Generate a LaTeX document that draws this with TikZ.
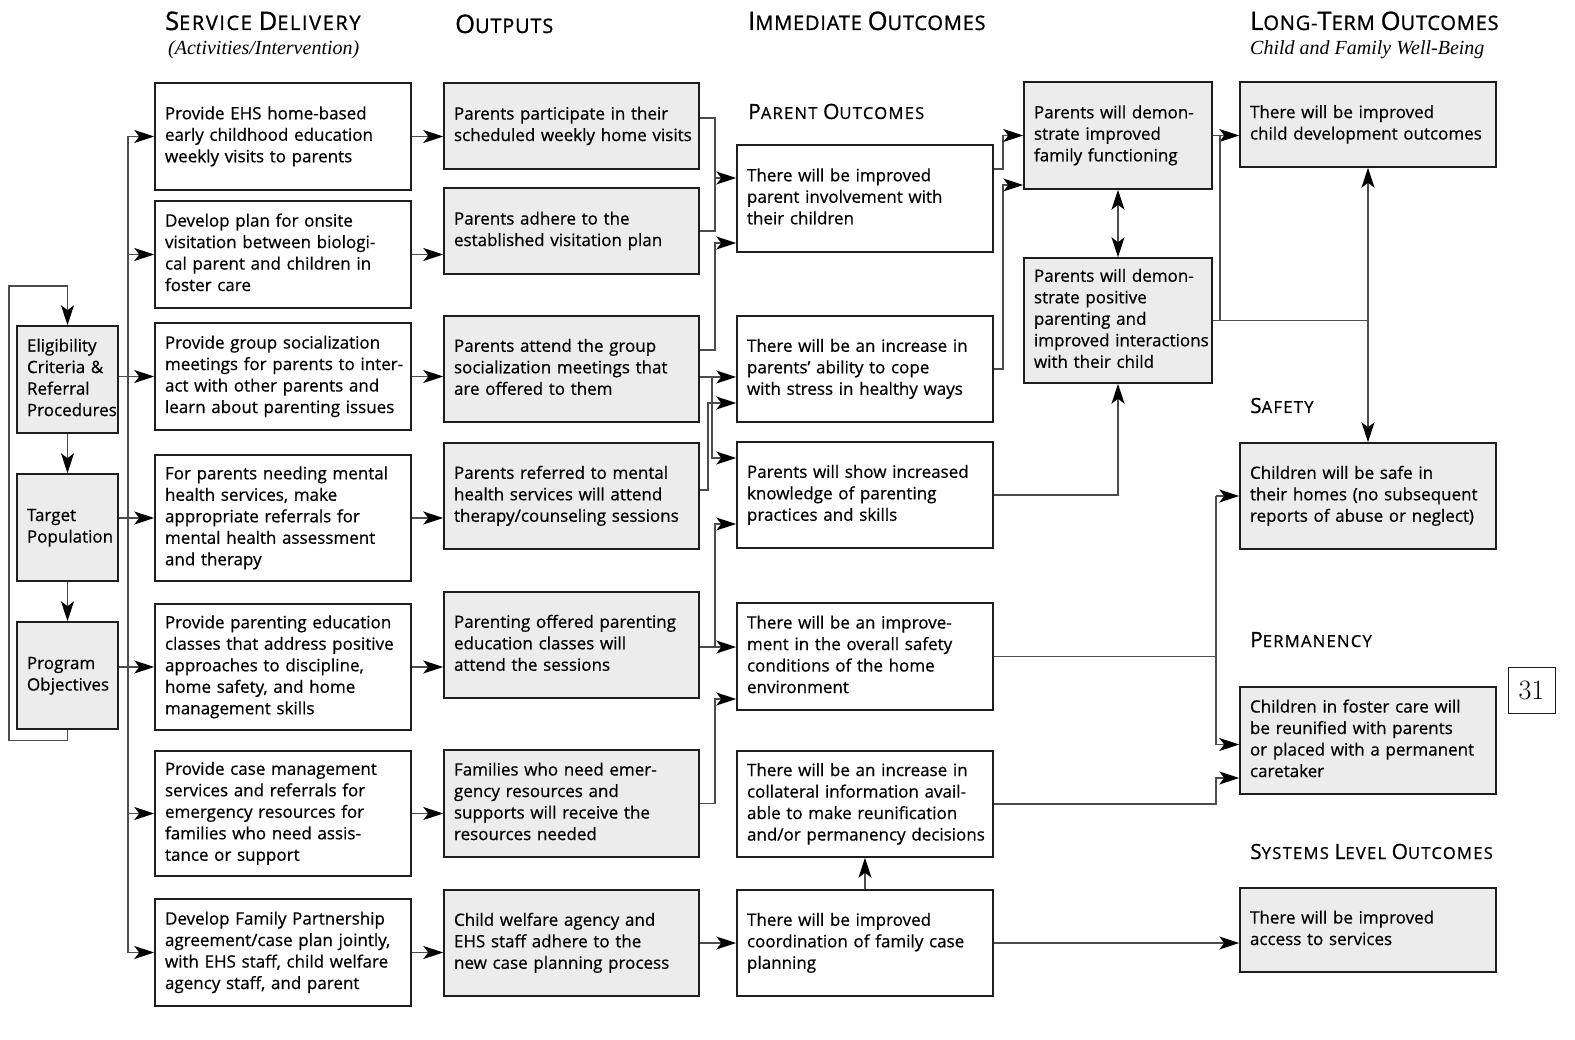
\documentclass[tikz,border=0pt]{standalone}
\usepackage{fontspec}
\setsansfont{Open Sans}
\newfontfamily\timesf{Liberation Serif}
\usetikzlibrary{arrows.meta}
\definecolor{boxgray}{HTML}{ECECEC}
\definecolor{linegray}{HTML}{4C4C4C}
\definecolor{edgecol}{HTML}{1E1E1E}
\newcommand\HC[1]{{\fontsize{25.5}{25.5}\selectfont #1}}
\newcommand\hc[1]{{\fontsize{21}{21}\selectfont #1}}
\newcommand\TL[1]{\begin{tabular}{@{}l@{}}#1\end{tabular}}
\begin{document}
\begin{tikzpicture}[x=1pt,y=-1pt,
  >={Stealth[length=20pt,width=13pt,inset=5pt,color=black]},
  box/.style={draw=edgecol, line width=1.5pt, rectangle, inner xsep=10pt, inner ysep=3pt, align=left,
    font=\sffamily\fontsize{17}{21.5}\selectfont\addfontfeatures{FakeBold=0.6}, text=black},
  wbox/.style={box, fill=white},
  gbox/.style={box, fill=boxgray},
  lcol/.style={gbox, minimum width=101pt, text width=81pt, minimum height=107pt},
  scol/.style={wbox, minimum width=256pt, text width=236pt},
  ocol/.style={gbox, minimum width=255pt, text width=235pt},
  icol/.style={wbox, minimum width=256pt, text width=236pt},
  pcol/.style={gbox, minimum width=188pt, text width=168pt},
  tcol/.style={gbox, minimum width=256pt, text width=236pt},
  conn/.style={draw=linegray, line width=1.3pt},
  arr/.style={conn, ->},
  darr/.style={conn, <->},
  hdr/.style={anchor=base west, inner sep=0pt, text=black, font=\sffamily\fontsize{20}{20}\selectfont\addfontfeatures{LetterSpace=4,FakeBold=1}},
  hdrw/.style={anchor=base west, inner sep=0pt, text=black, font=\sffamily\fontsize{20}{20}\selectfont\addfontfeatures{LetterSpace=8,FakeBold=1}},
  sub/.style={anchor=base west, inner sep=0pt, text=black, font=\sffamily\fontsize{16.5}{16.5}\selectfont\addfontfeatures{LetterSpace=8,FakeBold=0.8}},
  ital/.style={anchor=base west, inner sep=0pt, text=black, font=\timesf\itshape\fontsize{20}{20}\selectfont},
]
\useasboundingbox (0,0) rectangle (1575,1040);

% headers
\node[hdrw] (hsd) at (165,30) {\HC{S}ERVICE \HC{D}ELIVERY};
\node[ital] (hsd2) at (168,55) {(Activities/Intervention)};
\node[hdr] (hout) at (455,33) {\HC{O}UTPUTS};
\node[hdr] (himm) at (748,30) {\HC{I}MMEDIATE \HC{O}UTCOMES};
\node[hdr] (hlt) at (1250,30) {\HC{L}ONG-\HC{T}ERM \HC{O}UTCOMES};
\node[ital] (hlt2) at (1250,55) {Child and Family Well-Being};
\node[sub] (hpo) at (748,119) {\hc{P}ARENT \hc{O}UTCOMES};
\node[sub] (hsaf) at (1250,413) {\hc{S}AFETY};
\node[sub] (hperm) at (1250,647) {\hc{P}ERMANENCY};
\node[sub] (hsys) at (1250,859) {\hc{S}YSTEMS \hc{L}EVEL \hc{O}UTCOMES};

% left column
\node[lcol] (elig) at (67.5,379.5) {\TL{Eligibility\\Criteria \&\\Referral\\Procedures}};
\node[lcol] (targ) at (67.5,527.5) {\TL{Target\\Population}};
\node[lcol] (prog) at (67.5,675.5) {\TL{Program\\Objectives}};

% service delivery
\node[scol, minimum height=107pt] (s1) at (283,136.5) {\TL{Provide EHS home-based\\early childhood education\\weekly visits to parents}};
\node[scol, minimum height=107pt] (s2) at (283,254.5) {\TL{Develop plan for onsite\\visitation between biologi-\\cal parent and children in\\foster care}};
\node[scol, minimum height=107pt] (s3) at (283,376.5) {\TL{Provide group socialization\\meetings for parents to inter-\\act with other parents and\\learn about parenting issues}};
\node[scol, minimum height=126pt] (s4) at (283,518) {\TL{For parents needing mental\\health services, make\\appropriate referrals for\\mental health assessment\\and therapy}};
\node[scol, minimum height=126pt] (s5) at (283,667) {\TL{Provide parenting education\\classes that address positive\\approaches to discipline,\\home safety, and home\\management skills}};
\node[scol, minimum height=125pt] (s6) at (283,813.5) {\TL{Provide case management\\services and referrals for\\emergency resources for\\families who need assis-\\tance or support}};
\node[scol, minimum height=107pt] (s7) at (283,952.5) {\TL{Develop Family Partnership\\agreement/case plan jointly,\\with EHS staff, child welfare\\agency staff, and parent}};

% outputs
\node[ocol, minimum height=86pt] (o1) at (571.5,126) {\TL{Parents participate in their\\scheduled weekly home visits}};
\node[ocol, minimum height=86pt] (o2) at (571.5,231) {\TL{Parents adhere to the\\established visitation plan}};
\node[ocol, minimum height=106pt] (o3) at (571.5,369) {\TL{Parents attend the group\\socialization meetings that\\are offered to them}};
\node[ocol, minimum height=106pt] (o4) at (571.5,496) {\TL{Parents referred to mental\\health services will attend\\therapy/counseling sessions}};
\node[ocol, minimum height=106pt] (o5) at (571.5,645) {\TL{Parenting offered parenting\\education classes will\\attend the sessions}};
\node[ocol, minimum height=107pt] (o6) at (571.5,803.5) {\TL{Families who need emer-\\gency resources and\\supports will receive the\\resources needed}};
\node[ocol, minimum height=106pt] (o7) at (571.5,943) {\TL{Child welfare agency and\\EHS staff adhere to the\\new case planning process}};

% immediate outcomes
\node[icol, minimum height=107pt] (i1) at (865,198.5) {\TL{There will be improved\\parent involvement with\\their children}};
\node[icol, minimum height=106pt] (i2) at (865,369) {\TL{There will be an increase in\\parents' ability to cope\\with stress in healthy ways}};
\node[icol, minimum height=106pt] (i3) at (865,495) {\TL{Parents will show increased\\knowledge of parenting\\practices and skills}};
\node[icol, minimum height=107pt] (i4) at (865,656.5) {\TL{There will be an improve-\\ment in the overall safety\\conditions of the home\\environment}};
\node[icol, minimum height=106pt] (i5) at (865,804) {\TL{There will be an increase in\\collateral information avail-\\able to make reunification\\and/or permanency decisions}};
\node[icol, minimum height=106pt] (i6) at (865,943) {\TL{There will be improved\\coordination of family case\\planning}};

% parent outcomes
\node[pcol, minimum height=107pt] (pa) at (1118,135.5) {\TL{Parents will demon-\\strate improved\\family functioning}};
\node[pcol, minimum height=125pt] (pb) at (1118,320.5) {\TL{Parents will demon-\\strate positive\\parenting and\\improved interactions\\with their child}};

% long-term outcomes
\node[tcol, minimum height=85pt] (l1) at (1368,124.5) {\TL{There will be improved\\child development outcomes}};
\node[tcol, minimum height=106pt] (l2) at (1368,496) {\TL{Children will be safe in\\their homes (no subsequent\\reports of abuse or neglect)}};
\node[tcol, minimum height=107pt] (l3) at (1368,740.5) {\TL{Children in foster care will\\be reunified with parents\\or placed with a permanent\\caretaker}};
\node[tcol, minimum height=84pt] (l4) at (1368,930) {\TL{There will be improved\\access to services}};

% page number
\node[draw=edgecol, line width=1pt, minimum width=47pt, minimum height=46pt, inner sep=0pt,
  font=\fontsize{28}{28}\selectfont] (pg) at (1531.5,690) {31};

% ---------- connectors ----------
% left loop
\coordinate (loopc) at (9,286);
\draw[arr] (prog.south) -- ++(0,11) -| (loopc) -| (elig.north);
\draw[arr] (elig.south) -- (targ.north);
\draw[arr] (targ.south) -- (prog.north);

% bus
\coordinate (bus) at (128,0);
\draw[conn] (bus |- s1.west) -- (bus |- s7.west);
\foreach \n in {s1,s2,s3,s4,s5,s6,s7} \draw[arr] (bus |- \n.west) -- (\n.west);
\draw[conn] (elig.east |- s3.west) -- (bus |- s3.west);
\draw[conn] (targ.east |- s4.west) -- (bus |- s4.west);
\draw[conn] (prog.east |- s5.west) -- (bus |- s5.west);

% service -> outputs
\foreach \a/\b in {s1/o1,s2/o2,s3/o3,s4/o4,s5/o5,s6/o6,s7/o7}
  \draw[arr] (\a.east) -- (\a.east -| \b.west);

% outputs -> immediate
\coordinate (vA) at (715,0);
\coordinate (vB) at (712,0);
\coordinate (vC) at (708,0);
\coordinate (o1r) at ([yshift=8pt]o1.east);
\coordinate (o3a) at ([yshift=19pt]o3.east);
\coordinate (o4r) at ([yshift=6pt]o4.east);
\coordinate (i1a) at ([yshift=20.5pt]i1.west);
\coordinate (i1b) at ([yshift=-44.5pt]i1.west);
\coordinate (i2a) at ([yshift=-8pt]i2.west);
\coordinate (i2b) at ([yshift=-34pt]i2.west);
\coordinate (i3a) at ([yshift=37pt]i3.west);
\coordinate (i3b) at ([yshift=-29pt]i3.west);
\coordinate (i4a) at ([yshift=9.5pt]i4.west);
\coordinate (i4b) at ([yshift=-42.5pt]i4.west);

\draw[conn] (o1r) -- (vA |- o1r) -- (vA |- o2.east) -- (o2.east);
\draw[arr] (vA |- i1a) -- (i1a);
\draw[arr] (o3a) -- (vA |- o3a) -- (vA |- i1b) -- (i1b);
\draw[arr] (o3.east |- i2a) -- (i2a);
\draw[arr] (vB |- i2a) -- (vB |- i3a) -- (i3a);
\draw[arr] (o4r) -- (vC |- o4r) -- (vC |- i2b) -- (i2b);
\draw[arr] (o5.east |- i4a) -- (i4a);
\draw[arr] (vA |- i4a) -- (vA |- i3b) -- (i3b);
\draw[arr] (o6.east) -- (vA |- o6.east) -- (vA |- i4b) -- (i4b);
\draw[arr] (o7.east) -- (i6.west);
\draw[arr] (i6.north) -- (i5.south);

% immediate -> parent outcomes
\coordinate (vD) at (1003,0);
\coordinate (i1r) at ([yshift=29.5pt]i1.east);
\coordinate (pa2) at ([yshift=-49.5pt]pa.west);
\draw[arr] (i1r) -- (vD |- i1r) -- (vD |- pa.west) -- (pa.west);
\draw[arr] (i2.east) -- (vD |- i2.east) -- (vD |- pa2) -- (pa2);
\draw[arr] (i3.east) -- (pb.south |- i3.east) -- (pb.south);
\draw[darr] (pa.south) -- (pb.north);

% parent -> long-term
\coordinate (vE) at (1220,0);
\draw[arr] (pa.east) -- (pa.east -| l1.west);
\draw[conn] (pb.east) -- (l1.south |- pb.east);
\draw[conn] (vE |- pb.east) -- (vE |- pa.east);
\draw[darr] (l1.south) -- (l2.north);

% immediate -> long-term
\coordinate (vF) at (1216,0);
\coordinate (l3a) at ([yshift=-4pt]l3.west);
\coordinate (l3b) at ([yshift=-37.5pt]l3.west);
\draw[conn] (i4.east) -- (vF |- i4.east);
\draw[arr] (vF |- l2.west) -- (l2.west);
\draw[arr] (vF |- l2.west) -- (vF |- l3a) -- (l3a);
\draw[arr] (i5.east) -- (vF |- i5.east) -- (vF |- l3b) -- (l3b);
\draw[arr] (i6.east) -- (i6.east -| l4.west);
\end{tikzpicture}
\end{document}
